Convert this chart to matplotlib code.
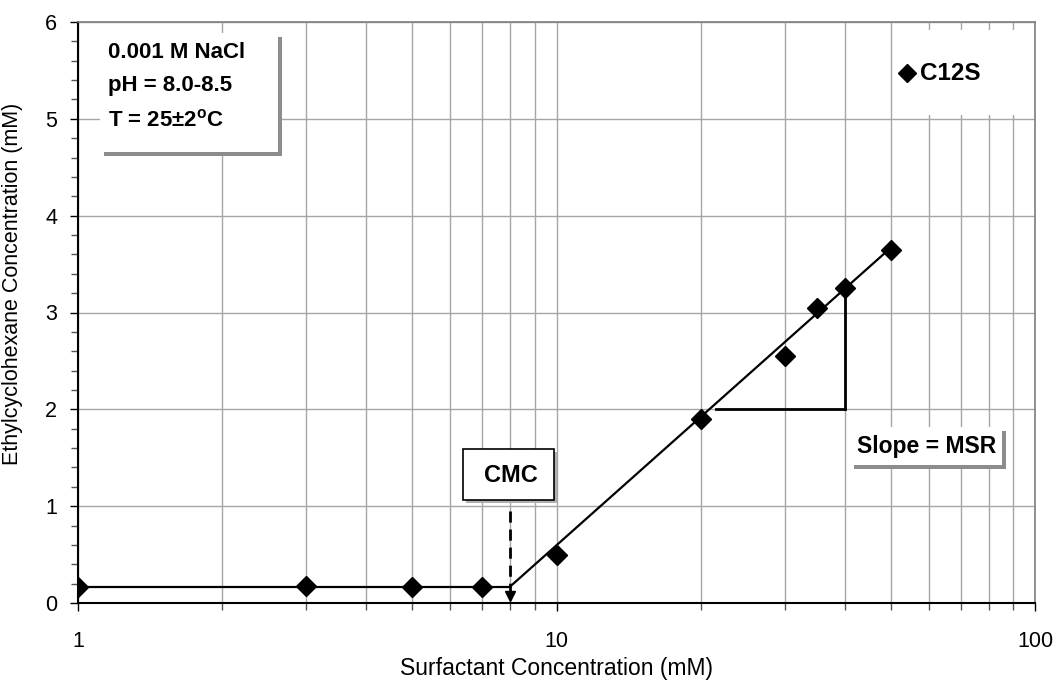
import matplotlib
matplotlib.use("Agg")
import matplotlib.pyplot as plt
from matplotlib.patches import Rectangle
from matplotlib.ticker import LogLocator, FixedLocator, NullFormatter, MultipleLocator
import numpy as np

plt.rcParams['font.family'] = ['Liberation Sans', 'DejaVu Sans']

# data
surf_conc = [1, 3, 5, 7, 10, 20, 30, 35, 40, 50]
ech_conc = [0.17, 0.18, 0.17, 0.17, 0.50, 1.90, 2.55, 3.05, 3.25, 3.65]
series_name = "C12S"
cmc_value = 8.0
plateau_level = 0.17
fit_x = [cmc_value, 50]
fit_y = [plateau_level, 3.67]
slope_h_x = [21.5, 40]
slope_y_low = 2.0
slope_y_high = 3.25
info_lines = ["0.001 M NaCl", "pH = 8.0-8.5", "T = 25\u00b12$^{\\mathregular{o}}$C"]
x_ticks = [1, 10, 100]
x_ticklabels = ["1", "10", "100"]
y_ticks = [0, 1, 2, 3, 4, 5, 6]

fig = plt.figure(figsize=(10.58, 6.86), dpi=100)
ax = fig.add_axes([78/1058, 1-603/686, 957/1058, 581/686])
ax.set_xscale('log')
ax.set_xlim(1, 100)
ax.set_ylim(0, 6)

grid_c = '#a6a6a6'
ax.xaxis.set_major_locator(FixedLocator(x_ticks))
ax.set_xticklabels(x_ticklabels)
ax.xaxis.set_minor_locator(LogLocator(base=10, subs=np.arange(2, 10)))
ax.xaxis.set_minor_formatter(NullFormatter())
ax.set_yticks(y_ticks)
ax.yaxis.set_minor_locator(MultipleLocator(0.2))
ax.grid(True, which='major', axis='both', color=grid_c, lw=1.0, zorder=0)
ax.grid(True, which='minor', axis='x', color=grid_c, lw=1.0, zorder=0)
ax.set_axisbelow(True)

tick_fs = 15.5
ax.tick_params(axis='x', which='major', direction='out', length=6, width=1, pad=14, labelsize=tick_fs)
ax.tick_params(axis='x', which='minor', direction='out', length=5, width=1, color='#555555')
ax.tick_params(axis='y', which='major', direction='out', length=6, width=1, pad=9, labelsize=tick_fs)
ax.tick_params(axis='y', which='minor', direction='out', length=5, width=1, color='#555555')

for s in ['top', 'right']:
    ax.spines[s].set_color('#7f7f7f')
    ax.spines[s].set_linewidth(1.2)
for s in ['left', 'bottom']:
    ax.spines[s].set_color('black')
    ax.spines[s].set_linewidth(1.5)

ax.set_xlabel("Surfactant Concentration (mM)", fontsize=16.5, labelpad=4)
ax.set_ylabel("Ethylcyclohexane Concentration (mM)", fontsize=15.5)
ax.yaxis.set_label_coords(-0.057, 0.55)

# lines
ax.plot([surf_conc[0], cmc_value], [plateau_level, plateau_level], color='black', lw=1.6, zorder=3)
ax.plot(fit_x, fit_y, color='black', lw=1.6, zorder=3)
ax.plot(slope_h_x, [slope_y_low, slope_y_low], color='black', lw=2, zorder=3)
ax.plot([slope_h_x[1], slope_h_x[1]], [slope_y_low, slope_y_high], color='black', lw=2, zorder=3)

# points
ax.plot(surf_conc, ech_conc, linestyle='none', marker='D', ms=10.5, color='black', zorder=4)

# CMC dashed arrow
ax.plot([cmc_value, cmc_value], [0.95, 0.12], color='black', lw=2, ls=(0, (4, 2.5)), zorder=5)
ax.plot([cmc_value], [0.07], marker='v', ms=7, color='black', zorder=5, clip_on=False)

def px2ax(x, y):
    return (x - 78) / 957, (603 - y) / 581

def shadow_box(x0, y0, x1, y1, border=False, off=4, sh_color='#8c8c8c'):
    ax0, ay1 = px2ax(x0, y0)
    ax1, ay0 = px2ax(x1, y1)
    dx = off / 957
    dy = off / 581
    ax.add_patch(Rectangle((ax0 + dx, ay0 - dy), ax1 - ax0, ay1 - ay0, transform=ax.transAxes,
                           facecolor=sh_color, edgecolor='none', zorder=6))
    ax.add_patch(Rectangle((ax0, ay0), ax1 - ax0, ay1 - ay0, transform=ax.transAxes,
                           facecolor='white', edgecolor='black' if border else 'none',
                           lw=1.2, zorder=7))

box_fs = 16
# info box
shadow_box(100, 33, 278, 152)
for i, (line, ypx) in enumerate(zip(info_lines, [52, 86, 120])):
    xa, ya = px2ax(108, ypx)
    ax.text(xa, ya, line, transform=ax.transAxes, fontsize=box_fs, fontweight='bold',
            ha='left', va='center', zorder=8)

# slope box
shadow_box(850, 427, 1002, 465)
xa, ya = px2ax(927, 447)
ax.text(xa, ya, "Slope = MSR", transform=ax.transAxes, fontsize=16.5, fontweight='bold',
        ha='center', va='center', zorder=8)

# CMC box
shadow_box(463, 449, 554, 500, border=True, off=3, sh_color='#b0b0b0')
xa, ya = px2ax(511, 475)
ax.text(xa, ya, "CMC", transform=ax.transAxes, fontsize=17, fontweight='bold',
        ha='center', va='center', zorder=8)

# legend
la0, la1 = px2ax(893, 30)
lb0, lb1 = px2ax(1034, 115)
ax.add_patch(Rectangle((la0, lb1), lb0 - la0, la1 - lb1, transform=ax.transAxes,
                       facecolor='white', edgecolor='none', zorder=1))
xa, ya = px2ax(907, 73)
ax.plot([xa], [ya], marker='D', ms=9, color='black', transform=ax.transAxes, zorder=8)
xa, ya = px2ax(920, 73)
ax.text(xa, ya, series_name, transform=ax.transAxes, fontsize=17.5, fontweight='bold',
        ha='left', va='center', zorder=8)

fig.savefig("out.png", dpi=100)
